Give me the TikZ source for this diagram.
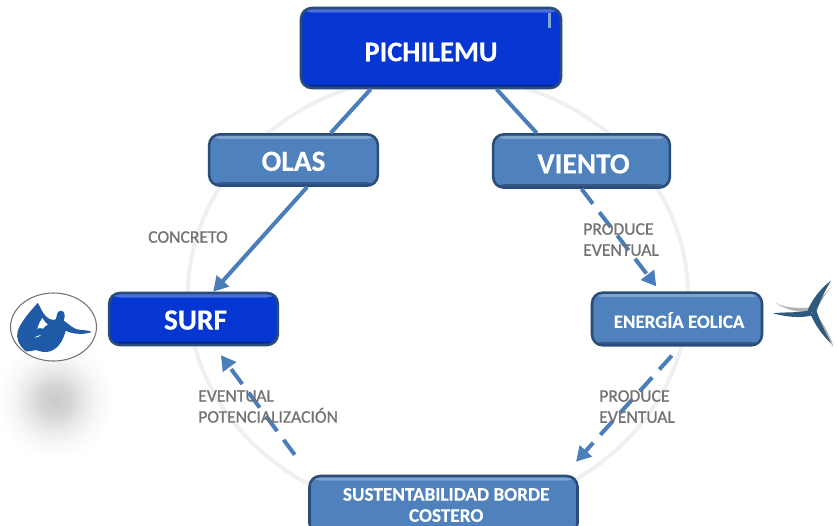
\documentclass[tikz,border=0pt]{standalone}
\usepackage{fontspec}
\usetikzlibrary{calc,arrows.meta,shapes.geometric}
\setmainfont{Carlito}[BoldFont={Carlito Bold},BoldFeatures={FakeBold=0.25}]
\newfontfamily\labelfont[FakeBold=0.9]{Carlito}
\definecolor{deepblue}{HTML}{0536D2}
\definecolor{midblue}{HTML}{4F81BD}
\definecolor{edgeblue}{HTML}{2A4C78}
\definecolor{linkblue}{HTML}{4A7EBB}
\definecolor{logoblue}{HTML}{1F5AA6}
\definecolor{bladeblue}{HTML}{2F5A80}
\pgfdeclareradialshading{softglow}{\pgfpoint{0bp}{0bp}}{color(0bp)=(black!20); color(6bp)=(black!17); color(12bp)=(black!9); color(18bp)=(black!3); color(25bp)=(white); color(50bp)=(white)}
\tikzset{
  bevel/.style={draw=edgeblue,line width=1.9pt,rounded corners=8pt,fill=#1,text=white,
    align=center,inner sep=0pt,path picture={
      \fill[#1!72!white] ([yshift=-.9pt]path picture bounding box.north west) rectangle ([yshift=-3.4pt]path picture bounding box.north east);
      \fill[#1!70!black] ([yshift=2.6pt]path picture bounding box.south west) rectangle (path picture bounding box.south east);
    }},
  lnk/.style={draw=linkblue,line width=3pt},
  tip/.style={-{Triangle[length=11pt,width=12pt]}},
  dsh/.style={dash pattern=on 14pt off 8pt},
  lab/.style={font=\labelfont\fontsize{13.2}{15.8}\selectfont,text=black!55,align=left,inner sep=0pt,anchor=north west},
  ring/.style={draw=black!6,line width=3pt},
}
\newcommand{\lowered}[2]{\raisebox{-#1}[\height][\depth]{#2}}
\begin{document}
\begin{tikzpicture}[x=0.75pt,y=-0.75pt]
\path[use as bounding box] (0,0) rectangle (837,525);
\clip (0,0) rectangle (837,525);
\fill[white] (0,0) rectangle (837,525);
\draw[ring] (438,295) ellipse [x radius=250,y radius=221];
\path[shading=softglow] (55,400) circle (60);

\node[bevel=deepblue,minimum width=195pt,minimum height=60pt,font=\bfseries\fontsize{21.4}{24}\selectfont] (pich) at (431,48) {\lowered{3pt}{PICHILEMU}};
\node[bevel=midblue,minimum width=126.5pt,minimum height=38.5pt,font=\bfseries\fontsize{22}{24}\selectfont] (olas) at (293.5,160) {\lowered{1pt}{OLAS}};
\node[bevel=midblue,minimum width=132.5pt,minimum height=40pt,font=\bfseries\fontsize{22}{24}\selectfont] (viento) at (581.5,161) {\hspace*{3pt}\lowered{2.2pt}{VIENTO}};
\node[bevel=deepblue,minimum width=126.5pt,minimum height=39pt,font=\bfseries\fontsize{22}{24}\selectfont] (surf) at (193.5,319) {\hspace*{3pt}\lowered{.8pt}{SURF}};
\node[bevel=midblue,minimum width=127.5pt,minimum height=39.5pt,font=\bfseries\fontsize{14.2}{16}\selectfont] (eolica) at (677,319) {\hspace*{3pt}\lowered{.8pt}{ENERGÍA EOLICA}};
\node[bevel=midblue,minimum width=201pt,minimum height=43.5pt,font=\bfseries\fontsize{14.4}{15.8}\selectfont] (sust) at (443.5,505) {\hspace*{4pt}SUSTENTABILIDAD BORDE\\\hspace*{4pt}COSTERO};
\fill[midblue!70!white] (548,13) rectangle (551,28);

\draw[lnk] ($(pich.south west)!.27!(pich.south east)$) -- ($(olas.north west)!.717!(olas.north east)$);
\draw[lnk] ($(pich.south west)!.75!(pich.south east)$) -- ($(viento.north west)!.25!(viento.north east)$);
\draw[lnk,tip] ($(olas.south west)!.58!(olas.south east)$) -- ($(surf.north west)!.615!(surf.north east)$);
\draw[lnk,tip,dsh] ($(viento.south west)!.5!(viento.south east)$) -- ($(eolica.north west)!.38!(eolica.north east)+(0,-5)$);
\draw[lnk,tip,dsh] ($(eolica.south west)!.47!(eolica.south east)+(0,9)$) -- ($(sust.north west)!.99!(sust.north east)+(0,-13)$);
\draw[lnk,tip,dsh] ($(sust.north west)!-.05!(sust.north east)+(0,-20)$) -- ($(surf.south west)!.66!(surf.south east)+(0,9)$);

\node[lab] (l1) at (148,231) {CONCRETO};
\node[lab] (l2) at (583,223) {PRODUCE\\EVENTUAL};
\node[lab] (l3) at (599,390) {PRODUCE\\EVENTUAL};
\node[lab] (l4) at (198,390) {EVENTUAL\\POTENCIALIZACIÓN};

% surfer logo
\node[draw=black!55,line width=.8pt,fill=white,ellipse,minimum width=64.5pt,minimum height=51pt,inner sep=0pt] (logo) at (53.5,327) {};
\begin{scope}[shift={(5,288)},x=0.25pt,y=-0.25pt]
\fill[logoblue] (62,190) .. controls (42,172) and (32,150) .. (38,130) .. controls (45,105) and (75,70) .. (98,45)
  .. controls (106,55) and (110,72) .. (122,84) .. controls (130,93) and (142,98) .. (152,94)
  .. controls (156,88) and (154,68) .. (168,68) .. controls (182,68) and (180,90) .. (176,98)
  .. controls (190,105) and (200,122) .. (222,125) .. controls (235,127) and (250,126) .. (260,132)
  .. controls (240,140) and (205,140) .. (182,128) .. controls (176,150) and (165,180) .. (135,190)
  .. controls (120,195) and (105,190) .. (92,186) .. controls (85,188) and (78,190) .. (62,190) -- cycle;
\fill[white] (97,122) .. controls (100,110) and (106,99) .. (112,90) .. controls (117,98) and (122,104) .. (128,110)
  .. controls (122,112) and (118,117) .. (114,122) .. controls (108,119) and (102,120) .. (97,122) -- cycle;
\fill[white] (88,149) .. controls (94,144) and (102,142) .. (108,141) .. controls (104,146) and (96,149) .. (88,149) -- cycle;
\end{scope}
% wind turbine logo
\begin{scope}[shift={(767,270)},x=0.25pt,y=-0.25pt]
\fill[black!30] (22,97) .. controls (60,118) and (95,112) .. (128,114) -- (128,126) .. controls (90,128) and (55,118) .. (22,97) -- cycle;
\fill[black!30] (195,50) .. controls (175,70) and (160,95) .. (148,124) -- (138,118) .. controls (155,90) and (175,68) .. (195,50) -- cycle;
\fill[black!30] (150,135) .. controls (170,165) and (190,195) .. (199,230) .. controls (175,200) and (155,175) .. (140,145) -- cycle;
\fill[bladeblue] (122,120) .. controls (135,90) and (160,55) .. (192,32) .. controls (175,60) and (158,95) .. (148,122) -- (135,128) -- cycle;
\fill[bladeblue] (18,130) .. controls (55,125) and (95,130) .. (130,120) -- (136,136) .. controls (100,146) and (55,140) .. (18,130) -- cycle;
\fill[bladeblue] (135,125) -- (148,120) .. controls (158,155) and (178,190) .. (192,220) .. controls (165,195) and (145,165) .. (132,136) -- cycle;
\end{scope}
\end{tikzpicture}
\end{document}
